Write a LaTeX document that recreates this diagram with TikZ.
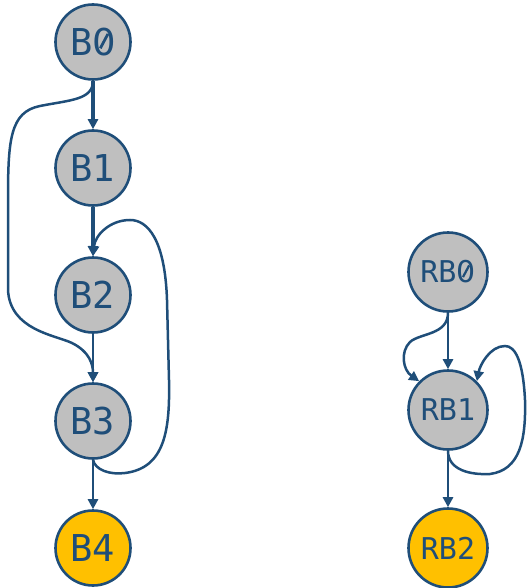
\documentclass[tikz,border=0pt]{standalone}
\usepackage{fontspec}
\usepackage{graphicx}
\newfontfamily\monof{DejaVu Sans Mono}
\newfontfamily\plainsans{DejaVu Sans}
\newcommand\slzero{\ooalign{\hfil\raisebox{0.17em}{\rotatebox{62}{\rule{0.44em}{0.075em}}}\hfil\cr\plainsans 0\cr}}
\usetikzlibrary{arrows.meta}
\definecolor{edgeblue}{HTML}{1F4E79}
\definecolor{nodegray}{HTML}{BFBFBF}
\definecolor{nodeorange}{HTML}{FFC000}
\begin{document}
\begin{tikzpicture}[x={(1pt,0)},y={(0,-1pt)},
  bnode/.style={circle,draw=edgeblue,line width=2.6pt,fill=nodegray,minimum size=75pt,inner sep=0pt,text=edgeblue,font=\monof\fontsize{37}{37}\selectfont},
  rnode/.style={circle,draw=edgeblue,line width=2.6pt,fill=nodegray,minimum size=79pt,inner sep=0pt,text=edgeblue,font=\monof\fontsize{30}{30}\selectfont},
  exitnode/.style={fill=nodeorange},
  flow/.style={draw=edgeblue,line width=2.5pt,-{Triangle[length=10pt,width=10pt]}},
  thickflow/.style={flow,line width=3.6pt}]
\useasboundingbox (0,0) rectangle (527,588);
\node[bnode] (B0) at (93,42) {B\slzero};
\node[bnode] (B1) at (93,168) {B1};
\node[bnode] (B2) at (93,295) {B2};
\node[bnode] (B3) at (93,421) {B3};
\node[bnode,exitnode] (B4) at (93,548) {B4};
\node[rnode] (RB0) at (448,272) {RB\slzero};
\node[rnode] (RB1) at (448,410) {RB1};
\node[rnode,exitnode] (RB2) at (448,548) {RB2};
\draw[thickflow] (B0) -- (B1);
\draw[thickflow] (B1) -- (B2);
\draw[flow] (B2) -- (B3);
\draw[flow] (B3) -- (B4);
\draw[flow] (B0.south) .. controls (93,100) and (70,100) .. (40,106)
  .. controls (10,112) and (8,140) .. (8,200) -- (8,290)
  .. controls (10,330) and (55,335) .. (72,343)
  .. controls (90,352) and (93,365) .. (B3.north);
\draw[flow] (B3.south) .. controls (95,470) and (110,475) .. (125,473)
  .. controls (165,468) and (170,430) .. (169,380) -- (167,300)
  .. controls (165,240) and (148,220) .. (130,220)
  .. controls (110,220) and (95,235) .. (B2.north);
\draw[flow] (RB0) -- (RB1);
\draw[flow] (RB1) -- (RB2);
\draw[flow] (RB0.south) .. controls (448,335) and (420,333) .. (410,342)
  .. controls (400,352) and (403,370) .. (RB1.135);
\draw[flow] (RB1.south) .. controls (448,470) and (470,475) .. (490,474)
  .. controls (520,470) and (526,440) .. (525,400)
  .. controls (523,360) and (515,346) .. (505,346)
  .. controls (490,346) and (480,365) .. (RB1.45);
\end{tikzpicture}
\end{document}
